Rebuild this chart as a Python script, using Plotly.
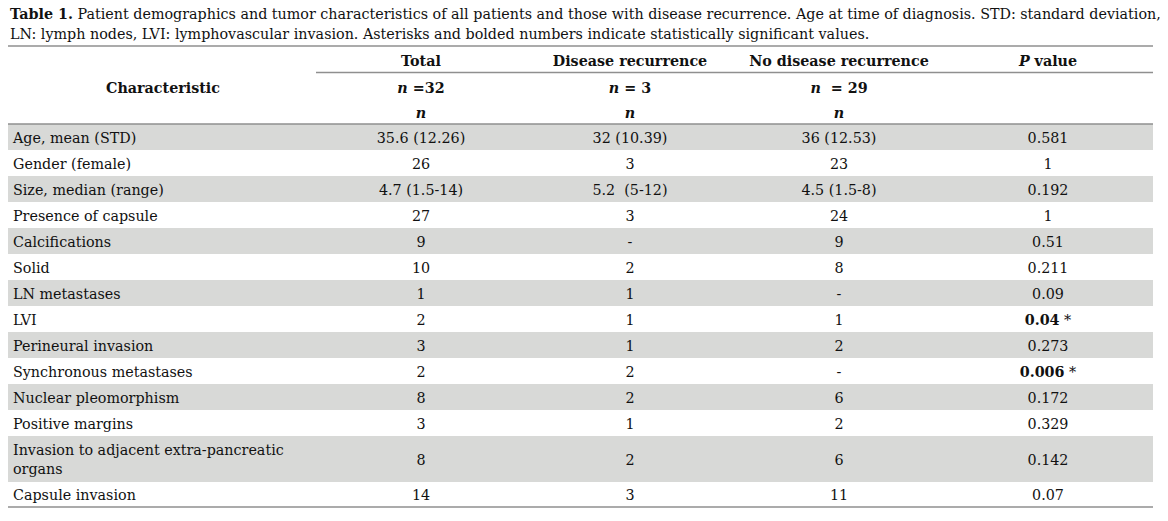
import plotly.graph_objects as go

characteristics = [
    "Age, mean (STD)", "Gender (female)", "Size, median (range)", "Presence of capsule",
    "Calcifications", "Solid", "LN metastases", "LVI", "Perineural invasion",
    "Synchronous metastases", "Nuclear pleomorphism", "Positive margins",
    "Invasion to adjacent extra-pancreatic<br>organs", "Capsule invasion",
]
total = ["35.6 (12.26)", "26", "4.7 (1.5-14)", "27", "9", "10", "1", "2", "3", "2", "8", "3", "8", "14"]
recurrence = ["32 (10.39)", "3", "5.2  (5-12)", "3", "-", "2", "1", "1", "1", "2", "2", "1", "2", "3"]
no_recurrence = ["36 (12.53)", "23", "4.5 (1.5-8)", "24", "9", "8", "-", "1", "2", "-", "6", "2", "6", "11"]
p_values = ["0.581", "1", "0.192", "1", "0.51", "0.211", "0.09", "0.04", "0.273", "0.006", "0.172", "0.329", "0.142", "0.07"]
significant = [False] * 7 + [True, False, True] + [False] * 4

headers = ["<b>Total</b>", "<b>Disease recurrence</b>", "<b>No disease recurrence</b>", "<b><i>P</i> value</b>"]
group_n = ["<b><i>n</i> =32</b>", "<b><i>n</i> = 3</b>", "<b><i>n</i>  = 29</b>"]

caption_1 = ("<b>Table 1.</b> Patient demographics and tumor characteristics of all patients and those "
             "with disease recurrence. Age at time of diagnosis. STD: standard deviation,")
caption_2 = ("LN: lymph nodes, LVI: lymphovascular invasion. Asterisks and bolded numbers indicate "
             "statistically significant values.")

# layout (pixel space)
W, H = 1168, 521
FONT = "DejaVu Serif"
FS = 14.3
TXT = "#111111"
GRAY = "#d8d9d7"
LINE = "#8f8f8f"
left, right = 8, 1153
col_x = [421, 630, 839, 1048]
row_heights = [26] * 12 + [46, 25]
top0 = 124
dy = 2  # scatter text sits a touch high

tops = []
y = top0
for h in row_heights:
    tops.append(y)
    y += h
bottom = y
centers = [t + h / 2 + dy for t, h in zip(tops, row_heights)]

fig = go.Figure()

shapes = []
for i, (t, h) in enumerate(zip(tops, row_heights)):
    if i % 2 == 0:
        shapes.append(dict(type="rect", xref="x", yref="y", x0=left, x1=right, y0=t, y1=t + h,
                           fillcolor=GRAY, line_width=0, layer="below"))
for (x0, x1, yy) in [(left, right, 46), (316, right, 72.5), (left, right, top0), (left, right, bottom)]:
    shapes.append(dict(type="line", xref="x", yref="y", x0=x0, x1=x1, y0=yy, y1=yy,
                       line=dict(color=LINE, width=1.3)))

font = dict(family=FONT, size=FS, color=TXT)

fig.add_trace(go.Scatter(x=[13] * len(characteristics), y=centers, text=characteristics,
                         mode="text", textposition="middle right", textfont=font, hoverinfo="skip"))

p_text = [f"<b>{p}</b> *" if s else p for p, s in zip(p_values, significant)]
for cx, col in zip(col_x, [total, recurrence, no_recurrence, p_text]):
    fig.add_trace(go.Scatter(x=[cx] * len(col), y=centers, text=col, mode="text",
                             textposition="middle center", textfont=font, hoverinfo="skip"))

# header
fig.add_trace(go.Scatter(x=[163], y=[87 + dy], text=["<b>Characteristic</b>"], mode="text",
                         textposition="middle center", textfont=font, hoverinfo="skip"))
fig.add_trace(go.Scatter(x=col_x, y=[60 + dy] * 4, text=headers, mode="text",
                         textposition="middle center", textfont=font, hoverinfo="skip"))
fig.add_trace(go.Scatter(x=col_x[:3], y=[87 + dy] * 3, text=group_n, mode="text",
                         textposition="middle center", textfont=font, hoverinfo="skip"))
fig.add_trace(go.Scatter(x=col_x[:3], y=[112 + dy] * 3, text=["<b><i>n</i></b>"] * 3, mode="text",
                         textposition="middle center", textfont=font, hoverinfo="skip"))

fig.add_annotation(x=8, y=14, xref="x", yref="y", text=caption_1, showarrow=False,
                   xanchor="left", yanchor="middle", font=font)
fig.add_annotation(x=8, y=34, xref="x", yref="y", text=caption_2, showarrow=False,
                   xanchor="left", yanchor="middle", font=font)

fig.update_layout(
    width=W, height=H, margin=dict(l=0, r=0, t=0, b=0),
    paper_bgcolor="white", plot_bgcolor="white", showlegend=False, shapes=shapes,
    xaxis=dict(range=[0, W], visible=False, fixedrange=True),
    yaxis=dict(range=[H, 0], visible=False, fixedrange=True),
)

fig.write_html("out.html", config={"displayModeBar": False},
               post_script="document.body.style.margin='0';")
